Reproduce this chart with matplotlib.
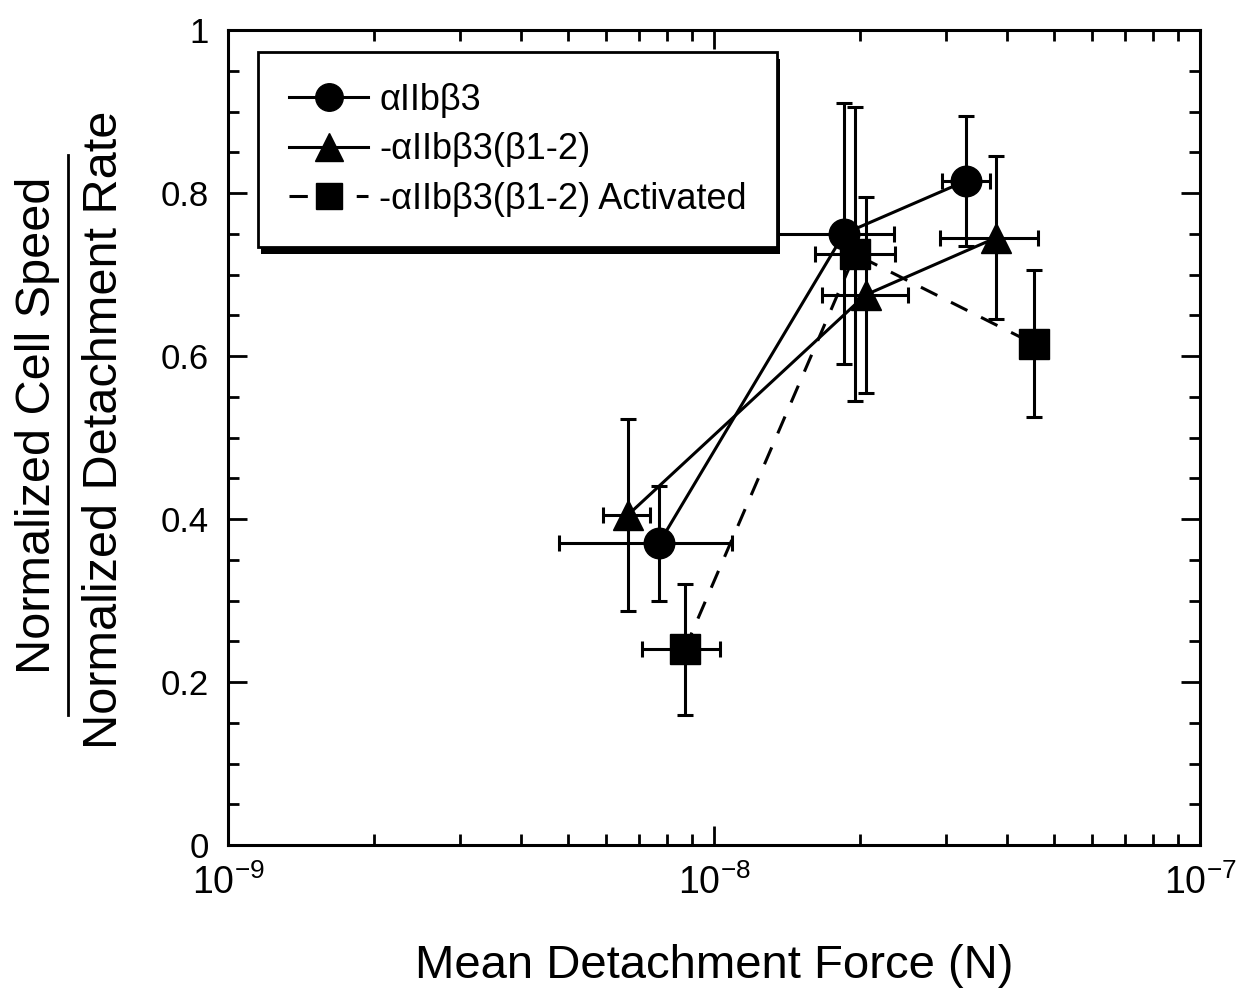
import matplotlib
matplotlib.use("Agg")
import numpy as np
import matplotlib.pyplot as plt
from matplotlib.lines import Line2D
from matplotlib.patches import Rectangle
from matplotlib.transforms import IdentityTransform
from matplotlib.ticker import FixedLocator, LogLocator, NullFormatter

plt.rcParams['font.family'] = ['Liberation Sans', 'DejaVu Sans']
plt.rcParams['mathtext.fontset'] = 'custom'
plt.rcParams['mathtext.rm'] = 'Liberation Sans'

# ---- data ----
circ_x = [7.7e-9, 1.85e-8, 3.3e-8]
circ_y = [0.37, 0.75, 0.815]
circ_yerr = [0.07, 0.16, 0.08]
circ_xlo = [4.8e-9, 1.2e-8, 2.95e-8]
circ_xhi = [1.09e-8, 2.35e-8, 3.7e-8]

tri_x = [6.65e-9, 2.05e-8, 3.8e-8]
tri_y = [0.405, 0.675, 0.745]
tri_yerr = [0.118, 0.12, 0.10]
tri_xlo = [5.9e-9, 1.67e-8, 2.92e-8]
tri_xhi = [7.4e-9, 2.51e-8, 4.63e-8]

sq_x = [8.7e-9, 1.95e-8, 4.55e-8]
sq_y = [0.24, 0.725, 0.615]
sq_yerr = [0.08, 0.18, 0.09]
sq_xlo = [7.1e-9, 1.61e-8, 4.55e-8]
sq_xhi = [1.03e-8, 2.36e-8, 4.55e-8]

labels = ["\u03b1IIb\u03b23", "-\u03b1IIb\u03b23(\u03b21-2)",
          "-\u03b1IIb\u03b23(\u03b21-2) Activated"]

fig = plt.figure(figsize=(12.57, 9.88), dpi=100)
ax = fig.add_axes([0.1814, 0.1447, 0.7733, 0.8249])


def xerr(x, lo, hi):
    x = np.array(x)
    return [x - np.array(lo), np.array(hi) - x]


ekw = dict(ecolor='k', elinewidth=2.2, capsize=6, capthick=2.2, fmt='none', zorder=2)
ax.errorbar(circ_x, circ_y, yerr=circ_yerr, xerr=xerr(circ_x, circ_xlo, circ_xhi), **ekw)
ax.errorbar(tri_x, tri_y, yerr=tri_yerr, xerr=xerr(tri_x, tri_xlo, tri_xhi), **ekw)
ax.errorbar(sq_x, sq_y, yerr=sq_yerr, xerr=xerr(sq_x, sq_xlo, sq_xhi), **ekw)

h1, = ax.plot(circ_x, circ_y, '-', color='k', lw=2.2, marker='o', ms=22, zorder=3)
h2, = ax.plot(tri_x, tri_y, '-', color='k', lw=2.2, marker='^', ms=22, zorder=3)
h3, = ax.plot(sq_x, sq_y, '--', color='k', lw=2.2, marker='s', ms=21,
              dashes=(6, 5), zorder=3)

ax.set_xscale('log')
ax.set_xlim(1e-9, 1e-7)
ax.set_ylim(0, 1)
ax.yaxis.set_major_locator(FixedLocator([0, 0.2, 0.4, 0.6, 0.8, 1.0]))
ax.yaxis.set_minor_locator(FixedLocator(np.arange(0, 1.0001, 0.05)))
ax.set_yticklabels(['0', '0.2', '0.4', '0.6', '0.8', '1'])
ax.xaxis.set_major_locator(FixedLocator([1e-9, 1e-8, 1e-7]))
ax.xaxis.set_minor_locator(LogLocator(base=10, subs=np.arange(2, 10)))
ax.xaxis.set_minor_formatter(NullFormatter())
ax.set_xticklabels([r'$\mathregular{10^{-9}}$', r'$\mathregular{10^{-8}}$',
                    r'$\mathregular{10^{-7}}$'])

ax.tick_params(which='both', direction='in', top=True, right=True, width=2)
ax.tick_params(which='major', length=14)
ax.tick_params(which='minor', length=8)
ax.tick_params(axis='y', labelsize=25, pad=14)
ax.tick_params(axis='x', labelsize=27, pad=14)
for s in ax.spines.values():
    s.set_linewidth(2.2)

ax.set_xlabel('Mean Detachment Force (N)', fontsize=34, labelpad=30)

# y label written as a fraction
fig.text(0.030, 0.570, 'Normalized Cell Speed', rotation=90, fontsize=35,
         ha='center', va='center')
fig.text(0.083, 0.565, 'Normalized Detachment Rate', rotation=90, fontsize=35,
         ha='center', va='center')
fig.add_artist(Line2D([0.054, 0.054], [0.276, 0.843], color='k', lw=2,
                      transform=fig.transFigure))

leg = ax.legend([h1, h2, h3], labels, loc='upper left',
                bbox_to_anchor=(0.031, 0.973), borderaxespad=0,
                fontsize=26, handlelength=2.2, handletextpad=0.3,
                labelspacing=0.4, borderpad=0.85, fancybox=False,
                edgecolor='k', facecolor='white', framealpha=1,
                markerscale=0.9)
leg.get_frame().set_linewidth(2)

# heavy black drop shadow under the legend box
fig.canvas.draw()
bb = leg.get_frame().get_window_extent()
ax.add_patch(Rectangle((bb.x0 + 3, bb.y0 - 7), bb.width, bb.height,
                       transform=IdentityTransform(), facecolor='k',
                       edgecolor='none', zorder=4.9, clip_on=False))

fig.savefig('out.png', dpi=100)
